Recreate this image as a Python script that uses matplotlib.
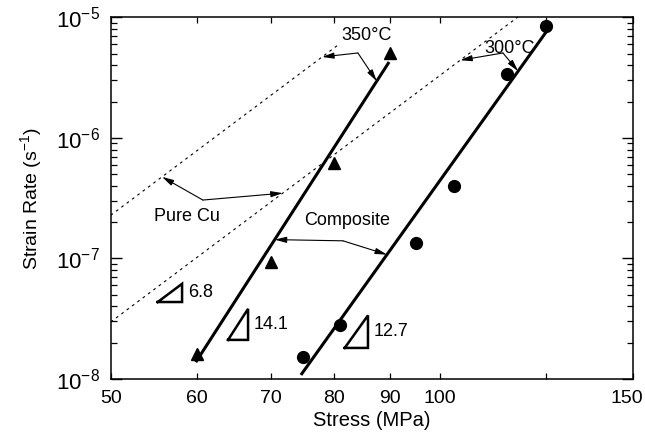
import numpy as np
import matplotlib
matplotlib.use('Agg')
import matplotlib.pyplot as plt
from matplotlib.ticker import FixedLocator, NullFormatter, LogLocator
from matplotlib.transforms import ScaledTranslation

plt.rcParams['font.family'] = ['Liberation Sans', 'DejaVu Sans']
plt.rcParams['mathtext.fontset'] = 'custom'
plt.rcParams['mathtext.rm'] = 'Liberation Sans'
plt.rcParams['mathtext.it'] = 'Liberation Sans'
plt.rcParams['mathtext.default'] = 'regular'

# Measured creep data
tri_stress = [60, 70, 80, 90]                       # composite, 350 C
tri_rate = [1.6e-8, 9.4e-8, 6.2e-7, 5.1e-6]
circ_stress = [75, 81, 95, 103, 115, 125]           # composite, 300 C
circ_rate = [1.53e-8, 2.8e-8, 1.34e-7, 4.0e-7, 3.4e-6, 8.5e-6]

# Power-law fits: rate = rate0 * (stress / stress0) ** n
fit_350 = dict(s0=60, r0=1.445e-8, n=14.1, lo=59.8, hi=89.8)
fit_300 = dict(s0=75, r0=1.156e-8, n=12.7, lo=74.6, hi=124.9)
cu_350 = dict(s0=50, r0=2.28e-7, n=6.8, lo=50, hi=80.5)
cu_300 = dict(s0=50, r0=2.97e-8, n=6.8, lo=50, hi=118)

# Stress-exponent triangles: (left stress, right stress, base rate, exponent)
slope_tris = [(55.2, 58.1, 4.35e-8, 6.8), (64.0, 66.75, 2.11e-8, 14.1), (81.8, 85.9, 1.81e-8, 12.7)]

x_ticks = [50, 60, 70, 80, 90, 100, 150]


def law(f, s):
    s = np.asarray(s, dtype=float)
    return f['r0'] * (s / f['s0']) ** f['n']


fig = plt.figure(figsize=(6.45, 4.38), dpi=100)
ax = fig.add_axes([0.1716, 0.1347, 0.8098, 0.8258])
ax.set_xscale('log')
ax.set_yscale('log')

for f in (fit_350, fit_300):
    s = np.geomspace(f['lo'], f['hi'], 50)
    ax.plot(s, law(f, s), color='k', lw=2.2, solid_capstyle='butt')
for f in (cu_350, cu_300):
    s = np.geomspace(f['lo'], f['hi'], 50)
    ax.plot(s, law(f, s), color='k', lw=0.8, linestyle=(0, (2.5, 3.5)))

ax.plot(tri_stress, tri_rate, '^', color='k', ms=8, mec='k')
ax.plot(circ_stress, circ_rate, 'o', color='k', ms=8.5, mec='k')

# slope triangles
for s1, s2, r, n in slope_tris:
    r2 = r * (s2 / s1) ** n
    ax.plot([s1, s2, s2, s1], [r, r, r2, r], color='k', lw=1.8, solid_joinstyle='miter')
    ax.text(s2 * 1.012, np.sqrt(r * r2), f'{n:g}', fontsize=13, va='center', ha='left')

arrow = dict(arrowstyle='-|>,head_length=0.7,head_width=0.18', color='k', lw=0.8,
             shrinkA=0, shrinkB=0)


def callout(label, label_xy, junction, tips):
    ax.text(*label_xy, label, fontsize=13, ha='center', va='center')
    for tip in tips:
        ax.annotate('', xy=tip, xytext=junction, arrowprops=arrow)


callout('350°C', (85.7, 7.13e-6), (84.1, 5.06e-6),
        [(78.0, law(cu_350, 78.0)), (87.5, law(fit_350, 87.5))])
callout('300°C', (115.8, 5.56e-6), (114.1, 5.06e-6),
        [(104.3, law(cu_300, 104.3)), (117.8, law(fit_300, 117.8))])
callout('Pure Cu', (58.7, 2.21e-7), (60.7, 3.05e-7),
        [(55.7, law(cu_350, 55.7)), (71.8, law(cu_300, 71.8))])
callout('Composite', (82.2, 2.08e-7), (81.5, 1.40e-7),
        [(70.6, law(fit_350, 70.6)), (89.4, law(fit_300, 89.4))])

ax.set_xlim(50, 150)
ax.set_ylim(1e-8, 1e-5)
ax.xaxis.set_major_locator(FixedLocator(x_ticks))
ax.set_xticklabels([str(t) for t in x_ticks])
ax.xaxis.set_minor_locator(FixedLocator([125]))
ax.xaxis.set_minor_formatter(NullFormatter())
ax.yaxis.set_major_locator(LogLocator(base=10, numticks=10))
ax.yaxis.set_minor_locator(LogLocator(base=10, subs=np.arange(2, 10), numticks=10))
ax.yaxis.set_minor_formatter(NullFormatter())

ax.tick_params(which='both', direction='in', top=True, right=True)
ax.tick_params(axis='y', which='major', length=8, width=1, pad=8, labelsize=16)
ax.tick_params(axis='y', which='minor', length=4.5, width=0.9)
ax.tick_params(axis='x', which='both', length=4, width=0.9, pad=8, labelsize=14)
for sp in ax.spines.values():
    sp.set_linewidth(1.1)

# pull the last stress label in from the figure edge
last = ax.get_xticklabels()[-1]
last.set_transform(last.get_transform() + ScaledTranslation(-0.06, 0, fig.dpi_scale_trans))

ax.set_xlabel('Stress (MPa)', fontsize=14.5, labelpad=3)
ax.set_ylabel('Strain Rate (s$^{-1}$)', fontsize=14, labelpad=8)

fig.savefig('out.png', dpi=100)
